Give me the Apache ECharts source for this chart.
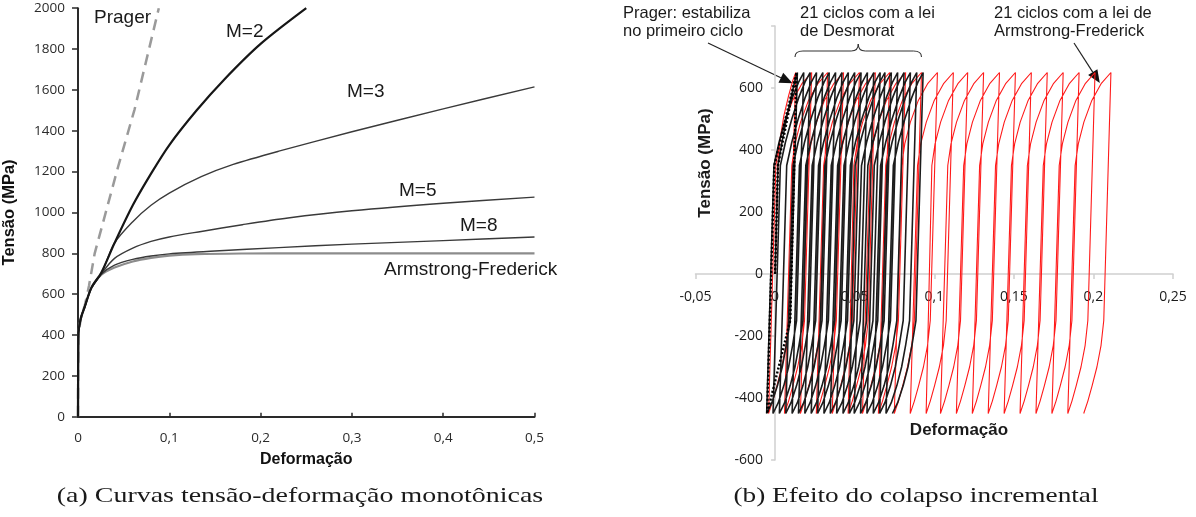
<!DOCTYPE html>
<html>
<head>
<meta charset="utf-8">
<script src="https://cdn.jsdelivr.net/npm/echarts@6/dist/echarts.min.js"></script>
<style>
  html, body { margin: 0; padding: 0; background: #fff; }
  #chart { width: 1196px; height: 517px; }
</style>
</head>
<body>
<div id="chart"></div>
<script>
// ---------- (a) monotonic stress-strain curves ----------
const epsM2 = [0, 0.0004, 0.003, 0.0075, 0.0147, 0.0256, 0.04, 0.06, 0.08, 0.10, 0.13, 0.16, 0.20, 0.25];
const sigM2 = [0, 400, 480, 540, 632, 706, 850, 1035, 1190, 1330, 1500, 1650, 1825, 2000];
const epsM3 = [0, 0.0004, 0.003, 0.0075, 0.0147, 0.0256, 0.04, 0.06, 0.08, 0.10, 0.135, 0.17, 0.22, 0.30, 0.40, 0.50];
const sigM3 = [0, 400, 480, 540, 630, 702, 850, 955, 1035, 1095, 1175, 1235, 1300, 1395, 1507, 1615];
const epsM5 = [0, 0.0004, 0.003, 0.0075, 0.0147, 0.0256, 0.04, 0.06, 0.08, 0.10, 0.135, 0.18, 0.23, 0.30, 0.40, 0.50];
const sigM5 = [0, 400, 480, 540, 630, 700, 775, 825, 858, 880, 907, 940, 973, 1008, 1045, 1075];
const epsM8 = [0, 0.0004, 0.003, 0.0075, 0.0147, 0.0256, 0.04, 0.06, 0.08, 0.10, 0.15, 0.22, 0.30, 0.40, 0.50];
const sigM8 = [0, 400, 480, 540, 630, 698, 742, 770, 787, 797, 811, 828, 845, 862, 880];
const epsAF = [0, 0.0004, 0.003, 0.0075, 0.0147, 0.0256, 0.04, 0.06, 0.08, 0.10, 0.13, 0.18, 0.25, 0.50];
const sigAF = [0, 400, 480, 540, 630, 695, 730, 760, 778, 789, 796, 799, 800, 800];
const epsPrager = [0, 0.0004, 0.003, 0.0075, 0.012, 0.0183, 0.044, 0.062, 0.0885];
const sigPrager = [0, 400, 480, 545, 640, 800, 1225, 1505, 2000];

const xTicksA = [0, 0.1, 0.2, 0.3, 0.4, 0.5];
const xLabelsA = ['0', '0,1', '0,2', '0,3', '0,4', '0,5'];
const yTicksA = [0, 200, 400, 600, 800, 1000, 1200, 1400, 1600, 1800, 2000];
const yLabelsA = ['0', '200', '400', '600', '800', '1000', '1200', '1400', '1600', '1800', '2000'];

// ---------- (b) ratcheting cycles ----------
// strain at each 650 MPa peak, one per cycle
const afPeaks = [0.013, 0.023, 0.033, 0.043, 0.053, 0.063, 0.072, 0.082, 0.092, 0.102, 0.112,
                 0.121, 0.131, 0.141, 0.151, 0.161, 0.171, 0.181, 0.191, 0.201, 0.211];
const desPeaks = [0.014, 0.018, 0.022, 0.026, 0.030, 0.034, 0.038, 0.042, 0.046, 0.050, 0.054,
                  0.058, 0.062, 0.066, 0.069, 0.073, 0.077, 0.081, 0.085, 0.089, 0.093];

// first loading from the origin
const afFirstEps = [0, 0.0018, 0.003, 0.0055, 0.0085, 0.011, 0.013];
const afFirstSig = [0, 350, 430, 510, 575, 622, 650];
const desFirstEps = [0, 0.0018, 0.0045, 0.0075, 0.0105, 0.0125, 0.014];
const desFirstSig = [0, 350, 430, 510, 580, 625, 650];

// loading branch (strain offset from the peak it reaches) and unloading branch (offset from the peak it leaves)
const afLoadOff = [-0.0225, -0.0205, -0.017, -0.012, -0.006, 0];
const afLoadSig = [350, 420, 490, 560, 615, 650];
const afUnloadOff = [-0.0045, -0.0062, -0.0088, -0.0118, -0.0145, -0.0171];
const afUnloadSig = [-150, -230, -300, -360, -410, -450];
const desLoadOff = [-0.0187, -0.0155, -0.0115, -0.0072, -0.0033, 0];
const desLoadSig = [350, 425, 500, 568, 618, 650];
const desUnloadOff = [-0.0045, -0.007, -0.0095, -0.0125, -0.016, -0.0193];
const desUnloadSig = [-150, -230, -300, -360, -415, -450];

// Prager loop, stabilised after the first cycle
const pragerEps = [0, 0.0018, 0.0135, 0.0095, -0.005, -0.0005, 0.0135];
const pragerSig = [0, 350, 650, -150, -450, 350, 650];

const xTicksB = [-0.05, 0, 0.05, 0.1, 0.15, 0.2, 0.25];
const xLabelsB = ['-0,05', '0', '0,05', '0,1', '0,15', '0,2', '0,25'];
const yTicksB = [-600, -400, -200, 0, 200, 400, 600, 800];
const yLabelsB = ['-600', '-400', '-200', '0', '200', '400', '600', ''];

const zip = (xs, ys) => xs.map((x, i) => [x, ys[i]]);

function buildCycles(peaks, firstEps, firstSig, loadOff, loadSig, unloadOff, unloadSig) {
  const pts = zip(firstEps, firstSig);
  peaks.forEach((p, k) => {
    if (k > 0) loadOff.forEach((o, j) => pts.push([p + o, loadSig[j]]));
    unloadOff.forEach((o, j) => pts.push([p + o, unloadSig[j]]));
  });
  return pts;
}

const lookup = (ticks, labels) => v => {
  const i = ticks.findIndex(t => Math.abs(t - v) < 1e-9);
  return i < 0 ? '' : labels[i];
};

const labelFontA = { fontFamily: '"Open Sans", sans-serif', fontSize: 13.5, color: '#2b2b2b' };
const labelFontB = { fontFamily: '"Open Sans", sans-serif', fontSize: 14, color: '#1a1a1a' };

function monoSeries(name, eps, sig, style, extra) {
  return Object.assign({
    name, type: 'line', xAxisIndex: 0, yAxisIndex: 0,
    data: zip(eps, sig), showSymbol: false, symbol: 'none',
    smooth: 0.3, lineStyle: style, silent: true
  }, extra || {});
}

const chart = echarts.init(document.getElementById('chart'), null, { renderer: 'canvas' });

const GRID_B = { left: 695.5, right: 23, top: 26, bottom: 57 };

const option = {
  backgroundColor: '#fff',
  animation: false,
  grid: [
    { left: 76.5, right: 661.5, top: 8.2, bottom: 100.3 },
    GRID_B
  ],
  xAxis: [
    {
      type: 'value', gridIndex: 0, min: 0, max: 0.5, interval: 0.1,
      name: 'Deformação', nameLocation: 'middle', nameGap: 35,
      nameTextStyle: { fontFamily: '"Liberation Sans", Arial, sans-serif', fontWeight: 'bold', fontSize: 16, color: '#111' },
      axisLine: { lineStyle: { color: '#2a2a2a', width: 2 } },
      axisTick: { inside: true, length: 4, lineStyle: { color: '#2a2a2a', width: 1.5 } },
      axisLabel: Object.assign({ margin: 14, formatter: lookup(xTicksA, xLabelsA) }, labelFontA),
      splitLine: { show: false }
    },
    {
      type: 'value', gridIndex: 1, min: -0.05, max: 0.25, interval: 0.05,
      axisLine: { onZero: false, lineStyle: { color: '#cfcfcf', width: 1.5 } },
      axisTick: { length: 5, lineStyle: { color: '#cfcfcf', width: 1.5 } },
      axisLabel: Object.assign({ margin: 16, formatter: lookup(xTicksB, xLabelsB) }, labelFontB),
      splitLine: { show: false }
    }
  ],
  yAxis: [
    {
      type: 'value', gridIndex: 0, min: 0, max: 2000, interval: 200,
      name: 'Tensão (MPa)', nameLocation: 'middle', nameGap: 60,
      nameTextStyle: { fontFamily: '"Liberation Sans", Arial, sans-serif', fontWeight: 'bold', fontSize: 16.5, color: '#111' },
      axisLine: { show: true, lineStyle: { color: '#2a2a2a', width: 2 } },
      axisTick: { show: true, length: 6, lineStyle: { color: '#2a2a2a', width: 1.5 } },
      axisLabel: Object.assign({ margin: 13, formatter: lookup(yTicksA, yLabelsA) }, labelFontA),
      splitLine: { show: false }
    },
    {
      type: 'value', gridIndex: 1, min: -600, max: 800, interval: 200,
      axisLine: { show: true, onZero: false, lineStyle: { color: '#cfcfcf', width: 1.5 } },
      axisTick: { show: true, length: 4, lineStyle: { color: '#cfcfcf', width: 1.5 } },
      axisLabel: Object.assign({ margin: 12, formatter: lookup(yTicksB, yLabelsB) }, labelFontB),
      splitLine: { show: false }
    }
  ],
  series: [
    monoSeries('Prager', epsPrager, sigPrager, { color: '#9a9a9a', width: 2.5, type: [11, 7] }, { smooth: false }),
    monoSeries('Armstrong-Frederick', epsAF, sigAF, { color: '#8c8c8c', width: 2.2 }),
    monoSeries('M=8', epsM8, sigM8, { color: '#3a3a3a', width: 1.4 }),
    monoSeries('M=5', epsM5, sigM5, { color: '#3a3a3a', width: 1.4 }),
    monoSeries('M=3', epsM3, sigM3, { color: '#3a3a3a', width: 1.4 }),
    monoSeries('M=2', epsM2, sigM2, { color: '#161616', width: 2.2 }),
    {
      name: 'Armstrong-Frederick (ciclos)', type: 'line', xAxisIndex: 1, yAxisIndex: 1,
      data: buildCycles(afPeaks, afFirstEps, afFirstSig, afLoadOff, afLoadSig, afUnloadOff, afUnloadSig),
      showSymbol: false, symbol: 'none', silent: true,
      lineStyle: { color: '#ff1a1a', width: 1.1 }
    },
    {
      name: 'Desmorat (ciclos)', type: 'line', xAxisIndex: 1, yAxisIndex: 1,
      data: buildCycles(desPeaks, desFirstEps, desFirstSig, desLoadOff, desLoadSig, desUnloadOff, desUnloadSig),
      showSymbol: false, symbol: 'none', silent: true,
      lineStyle: { color: '#1c1c1c', width: 1.6 }
    },
    {
      name: 'Prager (ciclos)', type: 'line', xAxisIndex: 1, yAxisIndex: 1,
      data: zip(pragerEps, pragerSig),
      showSymbol: false, symbol: 'none', silent: true,
      lineStyle: { color: '#000', width: 2.4, type: [2, 2] }
    }
  ]
};

chart.setOption(option);

// Cross the panel (b) axes at the origin: shift each axis (line, ticks and labels) from the grid edge to zero.
const origin = chart.convertToPixel({ gridIndex: 1 }, [0, 0]);
const gridBottomPx = 517 - GRID_B.bottom;
chart.setOption({
  xAxis: [{}, { offset: -(gridBottomPx - origin[1]) }],
  yAxis: [{}, { offset: -(origin[0] - GRID_B.left) }]
});

// ---------- annotations ----------
const px = (x, y) => chart.convertToPixel({ gridIndex: 1 }, [x, y]);
const sansA = '19px "Liberation Sans", Arial, sans-serif';
const sansB = '16.5px "Liberation Sans", Arial, sans-serif';
const bold17 = 'bold 17px "Liberation Sans", Arial, sans-serif';

function text(str, x, y, font, opts) {
  return Object.assign({
    type: 'text', x, y, silent: true,
    style: { text: str, font, fill: '#1a1a1a', align: (opts && opts.align) || 'left', verticalAlign: 'middle' }
  }, opts && opts.el || {});
}

function arrow(x0, y0, x1, y1) {
  const a = Math.atan2(y1 - y0, x1 - x0), L = 13, W = 5.5;
  const bx = x1 - L * Math.cos(a), by = y1 - L * Math.sin(a);
  return [
    { type: 'line', silent: true, shape: { x1: x0, y1: y0, x2: bx, y2: by }, style: { stroke: '#222', lineWidth: 1.2 } },
    { type: 'polygon', silent: true, shape: { points: [[x1, y1], [bx + W * Math.sin(a), by - W * Math.cos(a)], [bx - W * Math.sin(a), by + W * Math.cos(a)]] }, style: { fill: '#111' } }
  ];
}

function brace(xa, xb, yEnd, yFlat, yTip) {
  const xm = (xa + xb) / 2, st = { stroke: '#333', lineWidth: 1.1, fill: null };
  return [
    { type: 'bezierCurve', silent: true, shape: { x1: xa, y1: yEnd, cpx1: xa, cpy1: yFlat, x2: xa + 8, y2: yFlat }, style: st },
    { type: 'line', silent: true, shape: { x1: xa + 8, y1: yFlat, x2: xm - 7, y2: yFlat }, style: st },
    { type: 'bezierCurve', silent: true, shape: { x1: xm - 7, y1: yFlat, cpx1: xm, cpy1: yFlat, x2: xm, y2: yTip }, style: st },
    { type: 'bezierCurve', silent: true, shape: { x1: xm, y1: yTip, cpx1: xm, cpy1: yFlat, x2: xm + 7, y2: yFlat }, style: st },
    { type: 'line', silent: true, shape: { x1: xm + 7, y1: yFlat, x2: xb - 8, y2: yFlat }, style: st },
    { type: 'bezierCurve', silent: true, shape: { x1: xb - 8, y1: yFlat, cpx1: xb, cpy1: yFlat, x2: xb, y2: yEnd }, style: st }
  ];
}

const tipPrager = px(0.011, 615);
const tipAF = px(0.204, 616);
const braceL = px(0.0125, 0)[0];
const braceR = px(0.092, 0)[0];

const graphics = [
  // panel (a) curve labels
  text('Prager', 94, 18, sansA),
  text('M=2', 226, 32, sansA),
  text('M=3', 347, 92, sansA),
  text('M=5', 399, 191, sansA),
  text('M=8', 460, 226, sansA),
  text('Armstrong-Frederick', 384, 270, sansA),
  // panel (b) titles and notes
  text('Tensão (MPa)', 705, 163, bold17, { align: 'center', el: { rotation: Math.PI / 2 } }),
  text('Deformação', 959, 430, bold17, { align: 'center' }),
  text('Prager: estabiliza', 623, 13, sansB),
  text('no primeiro ciclo', 623, 31, sansB),
  text('21 ciclos com a lei', 800, 13, sansB),
  text('de Desmorat', 800, 31, sansB),
  text('21 ciclos com a lei de', 994, 13, sansB),
  text('Armstrong-Frederick', 994, 31, sansB),
  ...arrow(708, 43, tipPrager[0], tipPrager[1]),
  ...arrow(1074, 43, tipAF[0], tipAF[1]),
  ...brace(braceL, braceR, 57, 51, 44),
  // sub-figure captions
  text('(a) Curvas tensão-deformação monotônicas', 300, 496, '22px "Liberation Serif", serif', { align: 'center', el: { scaleX: 1.27 } }),
  text('(b) Efeito do colapso incremental', 916, 496, '22px "Liberation Serif", serif', { align: 'center', el: { scaleX: 1.24 } })
];

chart.setOption({ graphic: graphics });
</script>
</body>
</html>
